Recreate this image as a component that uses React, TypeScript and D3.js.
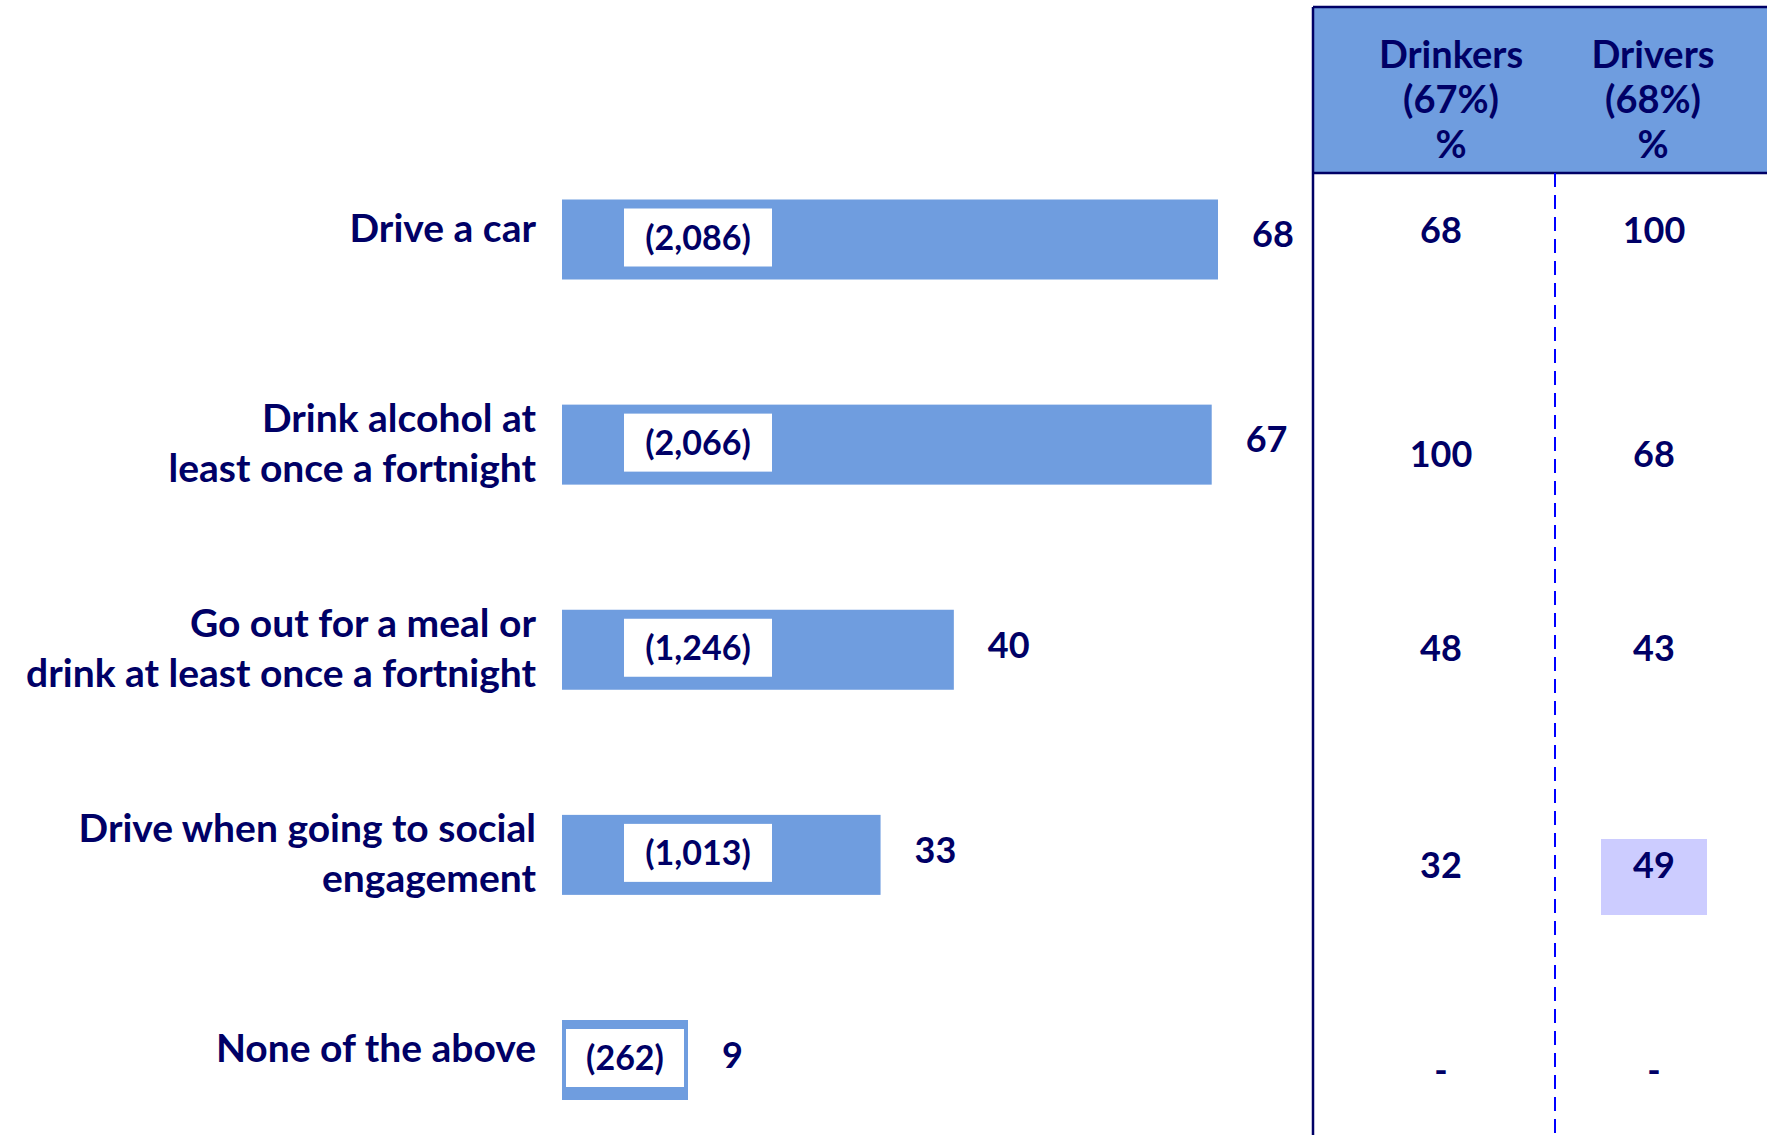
import React from "react";
import * as d3 from "d3";

const categories: string[][] = [
  ["Drive a car"],
  ["Drink alcohol at", "least once a fortnight"],
  ["Go out for a meal or", "drink at least once a fortnight"],
  ["Drive when going to social", "engagement"],
  ["None of the above"],
];
const percents: number[] = [68, 67, 40, 33, 9];
const counts: number[] = [2086, 2066, 1246, 1013, 262];
const countLabels: string[] = ["(2,086)", "(2,066)", "(1,246)", "(1,013)", "(262)"];
const columnHeaders: string[][] = [
  ["Drinkers", "(67%)", "%"],
  ["Drivers", "(68%)", "%"],
];
const drinkersCol: string[] = ["68", "100", "48", "32", "-"];
const driversCol: string[] = ["100", "68", "43", "49", "-"];
const highlighted: [number, number][] = [[1, 3]]; // [column, row]

const W = 1767;
const H = 1135;
const NAVY = "#000066";
const BAR = "#6f9ddf";
const FONT = "Lato, 'Open Sans', sans-serif";

export default function App() {
  const idx = d3.range(categories.length);
  const y = d3.scalePoint<number>().domain(idx).range([239.5, 1060]);
  const x = d3.scaleLinear().domain([0, d3.max(counts) as number]).range([562, 1218]);
  const barH = 80;

  const panelLeft = 1313;
  const panelTop = 7;
  const headerBottom = 173;
  const divider = 1555;
  const colX = d3.scaleOrdinal<number, number>().domain([0, 1]).range([1441, 1654]);
  const headX = d3.scaleOrdinal<number, number>().domain([0, 1]).range([1451, 1653]);
  const rowY = d3.scaleOrdinal<number, number>().domain(idx).range([243, 467, 661, 878, 1083]);

  const cols = [drinkersCol, driversCol];

  return (
    <svg
      width={W}
      height={H}
      style={{ position: "absolute", left: 0, top: 0, background: "#fff" }}
      fontFamily={FONT}
      fontWeight={700}
    >
      {/* Bars */}
      {idx.map((i) => {
        const x0 = x(0);
        const boxW = 15 * countLabels[i].length + 43;
        const rawW = x(counts[i]) - x0;
        const barW = Math.max(rawW, boxW + 8);
        const top = (y(i) as number) - barH / 2;
        const boxX = Math.min(x0 + 62, x0 + (barW - boxW) / 2);
        const boxY = top + 9;
        const boxH = 58;
        return (
          <g key={"bar" + i}>
            <rect x={x0} y={top} width={barW} height={barH} fill={BAR} />
            <rect x={boxX} y={boxY} width={boxW} height={boxH} fill="#fff" />
            <text
              x={boxX + boxW / 2}
              y={boxY + boxH / 2}
              dy="0.36em"
              textAnchor="middle"
              fontSize={34}
              fill={NAVY}
            >
              {countLabels[i]}
            </text>
            <text
              x={x0 + barW + 34}
              y={(y(i) as number) - 3}
              dy="0.3em"
              textAnchor="start"
              fontSize={36}
              fill={NAVY}
            >
              {percents[i]}
            </text>
          </g>
        );
      })}

      {/* Category labels */}
      {categories.map((lines, i) => {
        const n = lines.length;
        const base = (y(i) as number) + 2 - (n - 1) * 15;
        return (
          <text key={"lab" + i} textAnchor="end" fontSize={39} fill={NAVY}>
            {lines.map((l, j) => (
              <tspan key={j} x={536} y={base + j * 50}>
                {l}
              </tspan>
            ))}
          </text>
        );
      })}

      {/* Table panel */}
      <rect
        x={panelLeft}
        y={panelTop}
        width={W - panelLeft}
        height={headerBottom - panelTop}
        fill={BAR}
      />
      <line x1={panelLeft} x2={W} y1={panelTop} y2={panelTop} stroke={NAVY} strokeWidth={2.5} />
      <line x1={panelLeft} x2={W} y1={headerBottom} y2={headerBottom} stroke={NAVY} strokeWidth={2.5} />
      <line x1={panelLeft} x2={panelLeft} y1={panelTop} y2={H} stroke={NAVY} strokeWidth={2.5} />
      <line
        x1={divider}
        x2={divider}
        y1={headerBottom}
        y2={H}
        stroke="#0000ff"
        strokeWidth={2}
        strokeDasharray="14 8"
      />

      {columnHeaders.map((lines, c) => (
        <text key={"hd" + c} textAnchor="middle" fontSize={38} fill={NAVY}>
          {lines.map((l, j) => (
            <tspan key={j} x={headX(c)} y={68 + j * 45}>
              {l}
            </tspan>
          ))}
        </text>
      ))}

      {highlighted.map(([c, r]) => (
        <rect
          key={"hl" + c + r}
          x={colX(c) - 53}
          y={rowY(r) - 39}
          width={106}
          height={76}
          fill="#ccccff"
        />
      ))}

      {cols.map((col, c) =>
        col.map((v, r) => (
          <text
            key={"v" + c + r}
            x={colX(c)}
            y={rowY(r)}
            textAnchor="middle"
            fontSize={36}
            fill={NAVY}
          >
            {v}
          </text>
        ))
      )}
    </svg>
  );
}
